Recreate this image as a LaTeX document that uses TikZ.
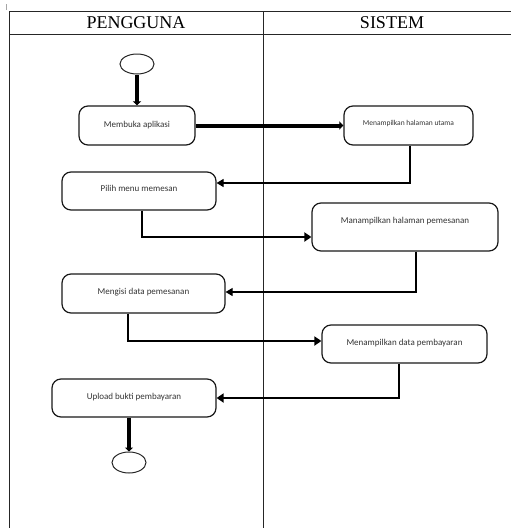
\documentclass[tikz,border=0pt]{standalone}
\usepackage{fontspec}
\setmainfont{Liberation Serif}
\newfontfamily\boxfont{Carlito}
\usetikzlibrary{shapes.geometric,arrows.meta}

\tikzset{
  lane/.style={line width=1pt, draw=black!85},
  header/.style={font=\fontsize{18}{20}\selectfont, inner sep=0pt},
  act/.style={draw=black!90, line width=1.2pt, rounded corners=9pt,
    inner sep=0pt, font=\boxfont\fontsize{9}{10}\selectfont, text=black!80},
  terminal/.style={draw=black!85, line width=1pt, ellipse, inner sep=0pt},
  heavy/.style={line width=4pt, -{Triangle[length=4pt,width=8pt]}},
  medium/.style={line width=2pt, -{Triangle[length=7pt,width=9pt]}},
  light/.style={line width=1.2pt, -{Triangle[length=7pt,width=8pt]}}
}

\begin{document}
\begin{tikzpicture}[x=1pt,y=-1pt]
\useasboundingbox (0,0) rectangle (511,528);

% swimlane frame
\draw[lane] (9,528) -- (9,11) -- (511,11);
\draw[lane] (9,34) -- (511,34);
\draw[lane] (263,11) -- (263,528);
\draw[black!35, line width=1pt] (6,4) -- (6,10);

\node[header] (hU) at (136,22.5) {PENGGUNA};
\node[header] (hS) at (392,22.5) {SISTEM};

% activities
\node[terminal, minimum width=34pt, minimum height=20pt] (start) at (137,64) {};
\node[act, minimum width=116pt, minimum height=39pt] (a1) at (137,125.5) {Membuka aplikasi};
\node[act, minimum width=129pt, minimum height=39pt,
      font=\boxfont\fontsize{7.5}{8}\selectfont, text depth=5pt] (s1) at (408.5,125.5) {Menampilkan halaman utama};
\node[act, minimum width=154pt, minimum height=38pt, text depth=5pt] (a2) at (139,191) {Pilih menu memesan};
\node[act, minimum width=186pt, minimum height=48pt, text depth=14pt] (s2) at (405,227) {Manampilkan halaman pemesanan};
\node[act, minimum width=163pt, minimum height=39pt, text depth=5pt] (a3) at (143.5,293.5) {Mengisi data pemesanan};
\node[act, minimum width=165pt, minimum height=38pt, text depth=4pt] (s3) at (404.5,344) {Menampilkan data pembayaran};
\node[act, minimum width=164pt, minimum height=38pt, text depth=4pt] (a4) at (134,398) {Upload bukti pembayaran};
\node[terminal, minimum width=34pt, minimum height=21pt] (end) at (129,462.5) {};

% flows
\draw[heavy] (start) -- (a1);
\draw[heavy] (a1.east) -- (s1.west);
\draw[light] ([xshift=1.5pt]s1.south) |- ([yshift=8pt]a2.east);
\draw[medium] ([xshift=3pt]a2.south) |- ([yshift=-10pt]s2.west);
\draw[light] ([xshift=11pt]s2.south) |- ([yshift=1.5pt]a3.east);
\draw[medium] ([xshift=-15.5pt]a3.south) |- ([yshift=3pt]s3.west);
\draw[medium, line width=2.4pt] ([xshift=-5.5pt]s3.south) |- (a4.east);
\draw[heavy] (a4.south -| end.north) -- (end.north);
\end{tikzpicture}
\end{document}
